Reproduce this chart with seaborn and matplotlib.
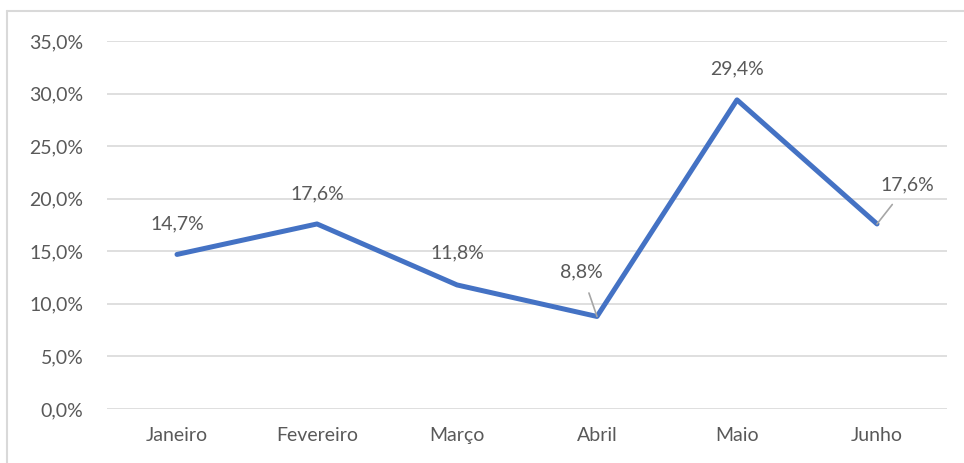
import pandas as pd
import matplotlib
matplotlib.use("Agg")
import matplotlib.pyplot as plt
import seaborn as sns
from matplotlib.ticker import FuncFormatter, MultipleLocator
from matplotlib.lines import Line2D

months = ["Janeiro", "Fevereiro", "Março", "Abril", "Maio", "Junho"]
values = [14.7, 17.6, 11.8, 8.8, 29.4, 17.6]
labels = ["14,7%", "17,6%", "11,8%", "8,8%", "29,4%", "17,6%"]

sns.set_theme(style="white")
plt.rcParams["font.family"] = ["Lato", "DejaVu Sans"]
text_color = "#595959"

df = pd.DataFrame({"month": months, "value": values})

fig = plt.figure(figsize=(9.64, 4.63), dpi=100)
ax = fig.add_axes([107 / 964, 1 - 409 / 463, 840 / 964, 368 / 463])

sns.lineplot(data=df, x="month", y="value", sort=False, color="#4472C4",
             linewidth=3.6, ax=ax, zorder=3)

ax.set_xlim(-0.5, len(months) - 0.5)
ax.set_ylim(0, 35)
ax.yaxis.set_major_locator(MultipleLocator(5))
ax.yaxis.set_major_formatter(FuncFormatter(lambda v, p: f"{v:.1f}%".replace(".", ",")))
ax.grid(axis="y", color="#D9D9D9", linewidth=1.2)
ax.set_axisbelow(True)
for s in ax.spines.values():
    s.set_visible(False)
ax.tick_params(axis="both", length=0, labelsize=14, colors=text_color)
ax.tick_params(axis="x", pad=13)
ax.tick_params(axis="y", pad=17)
ax.set_xlabel("")
ax.set_ylabel("")

# data labels (offsets in points)
offsets = [(0, 22), (0, 22), (0, 23), (-11, 32), (0, 22), (22, 28)]
for i, (v, lab, off) in enumerate(zip(values, labels, offsets)):
    lead = i in (3, 5)
    ax.annotate(
        lab, xy=(i, v), xytext=off, textcoords="offset points",
        ha="center", va="center", fontsize=14, color=text_color,
        arrowprops=dict(arrowstyle="-", color="#A6A6A6", lw=1.2,
                        shrinkA=7, shrinkB=0) if lead else None,
    )

# chart border (left and top edges visible)
fig.add_artist(Line2D([7 / 964, 7 / 964], [0, 1 - 11 / 463], color="#D9D9D9", lw=1.5))
fig.add_artist(Line2D([7 / 964, 1], [1 - 11 / 463, 1 - 11 / 463], color="#D9D9D9", lw=1.5))

fig.savefig("out.png", dpi=100)
